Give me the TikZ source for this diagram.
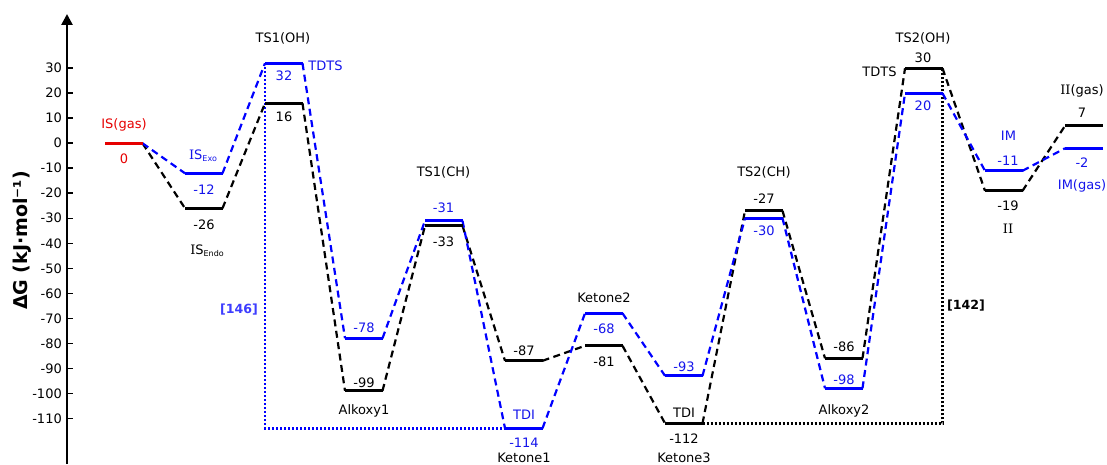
\documentclass[tikz,border=0pt]{standalone}
\usepackage{fontspec}
\setmainfont{DejaVu Sans}
\newfontfamily\serfam{DejaVu Serif}
\usetikzlibrary{arrows.meta}
\definecolor{myblue}{RGB}{0,0,255}
\definecolor{myred}{RGB}{230,0,0}
\definecolor{bluetext}{RGB}{20,20,235}
\definecolor{lblue}{RGB}{60,60,255}
\newcommand\sI{{\serfam I}}
\newcommand\subtxt[1]{\raisebox{-2pt}{\fontsize{8}{9}\selectfont #1}}
\newcommand\Lv[3]{%
  \coordinate (#1L) at ({105+80*#2},{320.7+2.5*(#3)});
  \coordinate (#1R) at ({142.5+80*#2},{320.7+2.5*(#3)});}
\begin{document}
\begin{tikzpicture}[x=1pt,y=1pt,
  lev/.style={line width=3.2pt},
  con/.style={line width=2.2pt, dash pattern=on 7pt off 4.5pt},
  dotl/.style={line width=2.4pt, dash pattern=on 2pt off 2pt},
  lbl/.style={inner sep=0pt, text height=9.4pt, text depth=0pt, font=\fontsize{13}{15}\selectfont},
  bl/.style={lbl, text=bluetext},
  ax/.style={line width=2.6pt},
  tick/.style={line width=1.6pt}]
\useasboundingbox (0,0) rectangle (1107,464);
% axis
\coordinate (axB) at (67,0);
\coordinate (axT) at (67,450);
\draw[ax,-{Triangle[width=11pt,length=11pt]}] (axB) -- (axT);
\foreach \v in {30,20,...,-110}{
  \draw[tick] (67,{320.7+2.5*\v}) -- (73,{320.7+2.5*\v});
  \node[lbl,anchor=east] (tk\v) at (62,{320.7+2.5*\v}) {\v};
}
\node[rotate=90,anchor=base,font=\bfseries\fontsize{19}{21}\selectfont] (ylab) at (28,223.5) {ΔG (kJ·mol⁻¹)};
% level coordinates
\Lv{ISg}{0}{0}
\Lv{Bexo}{1}{-12}
\Lv{Kendo}{1}{-26}
\Lv{Bts1oh}{2}{32}
\Lv{Kts1oh}{2}{16}
\Lv{Bal1}{3}{-78}
\Lv{Kal1}{3}{-99}
\Lv{Bts1ch}{4}{-31}
\Lv{Kts1ch}{4}{-33}
\Lv{Bk1}{5}{-114}
\Lv{Kk1}{5}{-87}
\Lv{Bk2}{6}{-68}
\Lv{Kk2}{6}{-81}
\Lv{Bk3}{7}{-93}
\Lv{Kk3}{7}{-112}
\Lv{Bts2ch}{8}{-30}
\Lv{Kts2ch}{8}{-27}
\Lv{Bal2}{9}{-98}
\Lv{Kal2}{9}{-86}
\Lv{Bts2oh}{10}{20}
\Lv{Kts2oh}{10}{30}
\Lv{Bim}{11}{-11}
\Lv{Kii}{11}{-19}
\Lv{Bimg}{12}{-2}
\Lv{Kiig}{12}{7}
% dotted span lines
\draw[dotl,myblue] (Bts1ohL) -- (Bts1ohL |- Bk1L) -- (Bk1L);
\draw[dotl,black] (Kk3R) -- (Kk3R -| Kts2ohR) -- (Kts2ohR);
% connectors
\draw[con,black] (ISgR) -- (KendoL) (KendoR) -- (Kts1ohL) (Kts1ohR) -- (Kal1L)
  (Kal1R) -- (Kts1chL) (Kts1chR) -- (Kk1L) (Kk1R) -- (Kk2L) (Kk2R) -- (Kk3L)
  (Kk3R) -- (Kts2chL) (Kts2chR) -- (Kal2L) (Kal2R) -- (Kts2ohL) (Kts2ohR) -- (KiiL)
  (KiiR) -- (KiigL);
\draw[con,myblue] (ISgR) -- (BexoL) (BexoR) -- (Bts1ohL) (Bts1ohR) -- (Bal1L)
  (Bal1R) -- (Bts1chL) (Bts1chR) -- (Bk1L) (Bk1R) -- (Bk2L) (Bk2R) -- (Bk3L)
  (Bk3R) -- (Bts2chL) (Bts2chR) -- (Bal2L) (Bal2R) -- (Bts2ohL) (Bts2ohR) -- (BimL)
  (BimR) -- (BimgL);
% levels
\draw[lev,myred] (ISgL) -- (ISgR);
\foreach \n in {Bexo,Bts1oh,Bal1,Bts1ch,Bk1,Bk2,Bk3,Bts2ch,Bal2,Bts2oh,Bim,Bimg}
  \draw[lev,myblue] (\n L) -- (\n R);
\foreach \n in {Kendo,Kts1oh,Kal1,Kts1ch,Kk1,Kk2,Kk3,Kts2ch,Kal2,Kts2oh,Kii,Kiig}
  \draw[lev,black] (\n L) -- (\n R);
% labels
\node[lbl,text=myred] (t1) at (124,340) {IS(gas)};
\node[lbl,text=myred] (t2) at (124,305) {0};
\node[bl] (t3) at (203,309) {\sI S\subtxt{Exo}};
\node[bl] (t4) at (204,274) {-12};
\node[lbl] (t5) at (204,239) {-26};
\node[lbl] (t6) at (207,214) {\sI S\subtxt{Endo}};
\node[lbl] (t7) at (283,426) {TS1(OH)};
\node[bl] (t8) at (284,388) {32};
\node[lbl] (t9) at (284,347) {16};
\node[bl] (t10) at (325.5,398) {TDTS};
\node[lbl] (t11) at (443.5,292) {TS1(CH)};
\node[bl] (t12) at (443.5,256) {-31};
\node[lbl] (t13) at (443.5,222) {-33};
\node[bl] (t14) at (364,136) {-78};
\node[lbl] (t15) at (364,81) {-99};
\node[lbl] (t16) at (364,54) {Alkoxy1};
\node[lbl] (t17) at (524,113) {-87};
\node[bl] (t18) at (524,49) {TDI};
\node[bl] (t19) at (524,21) {-114};
\node[lbl] (t20) at (524,6.5) {Ketone1};
\node[lbl] (t21) at (604,166) {Ketone2};
\node[bl] (t22) at (604,135) {-68};
\node[lbl] (t23) at (604,102) {-81};
\node[bl] (t24) at (684,97) {-93};
\node[lbl] (t25) at (684,51) {TDI};
\node[lbl] (t26) at (684,25) {-112};
\node[lbl] (t27) at (684,6.5) {Ketone3};
\node[lbl] (t28) at (764,292) {TS2(CH)};
\node[lbl] (t29) at (764,265) {-27};
\node[bl] (t30) at (764,233) {-30};
\node[lbl] (t31) at (844,117) {-86};
\node[bl] (t32) at (844,84) {-98};
\node[lbl] (t33) at (844,54) {Alkoxy2};
\node[lbl] (t34) at (923,426) {TS2(OH)};
\node[lbl] (t35) at (923,406) {30};
\node[lbl] (t36) at (879.5,392) {TDTS};
\node[bl] (t37) at (923,358) {20};
\node[bl] (t38) at (1008.5,328) {IM};
\node[bl] (t39) at (1008,303) {-11};
\node[lbl] (t40) at (1008,258) {-19};
\node[lbl] (t41) at (1008,235) {\sI\sI};
\node[lbl] (t42) at (1082,374) {\sI\sI(gas)};
\node[lbl] (t43) at (1082,351) {7};
\node[bl] (t44) at (1082,301) {-2};
\node[bl] (t45) at (1082,279) {IM(gas)};
\node[lbl,text=lblue,font=\bfseries\fontsize{12.6}{14}\selectfont] (t46) at (239,155) {[146]};
\node[lbl,font=\bfseries\fontsize{12.6}{14}\selectfont] (t47) at (966,159) {[142]};
\end{tikzpicture}
\end{document}
